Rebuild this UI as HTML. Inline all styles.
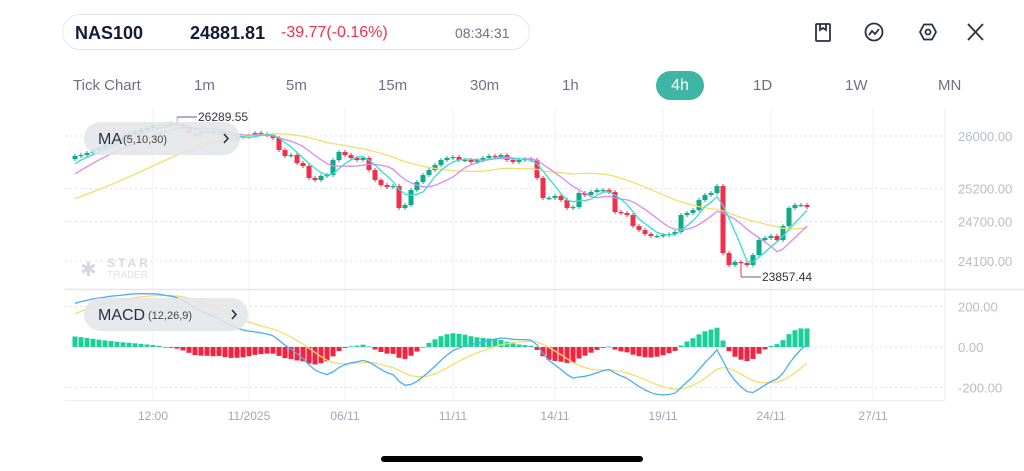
<!DOCTYPE html>
<html><head><meta charset="utf-8">
<style>
*{margin:0;padding:0;box-sizing:border-box}
body{width:1024px;height:471px;background:#fff;font-family:"Liberation Sans",sans-serif;position:relative;overflow:hidden}
.abs{position:absolute}
.tf{position:absolute;top:77px;font-size:15px;color:#6b7285}
</style></head><body>
<div class="abs" style="left:62px;top:14px;width:468px;height:36px;border:1px solid #e3e5ea;border-radius:18px"></div>
<div class="abs" style="left:75px;top:23px;font-size:18px;font-weight:bold;color:#131a3a">NAS100</div>
<div class="abs" style="left:190px;top:23px;font-size:18px;font-weight:bold;color:#131a3a">24881.81</div>
<div class="abs" style="left:281px;top:24px;font-size:16px;color:#f0304a">-39.77(-0.16%)</div>
<div class="abs" style="left:455px;top:25px;font-size:14px;color:#6b7285">08:34:31</div>
<svg class="abs" style="left:800px;top:18px" width="200" height="30">
<g fill="none" stroke="#2a2f45" stroke-width="1.8"><rect x="16" y="6" width="14" height="17" rx="1"/><path d="M20 6v6l3-2 3 2V6"/></g>
<g fill="none" stroke="#2a2f45" stroke-width="1.8"><circle cx="74" cy="14" r="8.5"/><path d="M69 17l3-4 3 3 4-5"/></g>
<g fill="none" stroke="#2a2f45" stroke-width="1.8"><path d="M120 14l4-7.5h8l4 7.5-4 7.5h-8z"/><circle cx="128" cy="14" r="2.5"/></g>
<g stroke="#2a2f45" stroke-width="1.8"><path d="M168 6l15 16M183 6l-15 16"/></g>
</svg>
<div class="tf" style="left:73px">Tick Chart</div>
<div class="tf" style="left:194px">1m</div>
<div class="tf" style="left:286px">5m</div>
<div class="tf" style="left:378px">15m</div>
<div class="tf" style="left:470px">30m</div>
<div class="tf" style="left:562px">1h</div>
<div class="abs" style="left:656px;top:71px;width:48px;height:29px;border-radius:15px;background:#3fb5a5;color:#fff;font-size:16px;text-align:center;line-height:29px">4h</div>
<div class="tf" style="left:753px">1D</div>
<div class="tf" style="left:845px">1W</div>
<div class="tf" style="left:938px">MN</div>

<svg id="ch" class="abs" style="left:0;top:0" width="1024" height="471"></svg>
<div class="abs" style="left:381px;top:456px;width:262px;height:6px;border-radius:3px;background:#000"></div>

<script>
const priorCloses=[24700,24720,24690,24740,24760,24740,24780,24800,24790,24820,24850,24840,24880,24900,24890,24930,24970,24960,25020,25080,25060,25140,25210,25250,25320,25400,25450,25520,25590,25650];
const closes=[25696,25711,25742,25787,25818,25863,25909,25939,25985,26030,26061,26091,26122,26152,26167,26152,26198,26182,26122,26046,26000,26061,26076,26046,26076,25970,25939,25970,25985,26015,26046,26030,26015,25970,25787,25696,25711,25590,25544,25362,25331,25392,25407,25635,25757,25711,25666,25635,25666,25483,25331,25255,25225,25240,24906,24951,25179,25301,25407,25483,25559,25635,25666,25681,25635,25635,25605,25635,25666,25696,25681,25711,25635,25605,25635,25650,25635,25362,25058,25058,25088,25027,24906,24921,25134,25103,25149,25179,25179,25149,24845,24830,24799,24632,24571,24510,24480,24480,24495,24510,24541,24799,24830,24875,25027,25103,25134,25240,24222,24039,24085,24070,24039,24191,24419,24450,24480,24419,24632,24906,24951,24951,24921];
const extremes={17:{high:26289.55},111:{low:23857.44}};
const priceTicks=[26000,25200,24700,24100];
const macdTicks=[200,0,-200];
const dateLabels=["12:00","11/2025","06/11","11/11","14/11","19/11","24/11","27/11"];
const dateIdx=[13,29,45,63,80,98,116,133];

const NS="http://www.w3.org/2000/svg",svg=document.getElementById('ch');
function mk(t,a,p){const e=document.createElementNS(NS,t);for(const k in a)e.setAttribute(k,a[k]);(p||svg).appendChild(e);return e;}
const xOf=i=>75+6*i;
const yP=p=>136+(26000-p)*0.0658;
const yM=v=>347-v*0.2025;

const g=mk('g',{});


dateIdx.forEach(i=>{mk('line',{x1:xOf(i),x2:xOf(i),y1:108,y2:400,stroke:'#f0f1f4','stroke-width':1},g);});
mk('line',{x1:945,x2:945,y1:108,y2:400,stroke:'#eceef2'},g);
mk('line',{x1:65,x2:1024,y1:289.5,y2:289.5,stroke:'#e4e6eb','stroke-width':1.5},g);
mk('line',{x1:65,x2:945,y1:400.5,y2:400.5,stroke:'#eceef2'},g);
priceTicks.forEach(p=>{mk('line',{x1:65,x2:945,y1:yP(p),y2:yP(p),stroke:'#dcdfe5','stroke-dasharray':'2,3'},g);
 const t=mk('text',{x:958,y:yP(p)+5,'font-size':13,fill:'#b9bcc6'},g);t.textContent=p.toFixed(2);
 
 });
macdTicks.forEach(v=>{mk('line',{x1:65,x2:945,y1:yM(v),y2:yM(v),stroke:'#dcdfe5','stroke-dasharray':'2,3'},g);
 const t=mk('text',{x:958,y:yM(v)+5,'font-size':13,fill:'#b9bcc6'},g);t.textContent=v.toFixed(2);
 
 });
dateLabels.forEach((l,k)=>{const t=mk('text',{x:xOf(dateIdx[k]),y:420,'font-size':12,fill:'#a3a7b3','text-anchor':'middle'});t.textContent=l;
 
 });

const wm=mk('g',{});


mk('text',{x:80,y:276,'font-size':20,fill:'#d5d8de'},wm).textContent='✱';
mk('text',{x:107,y:267,'font-size':12,'font-weight':'bold','letter-spacing':'3',fill:'#d5d8de'},wm).textContent='STAR';
mk('text',{x:107,y:278,'font-size':10,fill:'#dfe1e6'},wm).textContent='TRADER';

const all=priorCloses.concat(closes),off=priorCloses.length;
const cg=mk('g',{});


closes.forEach((c,i)=>{
 const o=i?closes[i-1]:priorCloses[off-1];
 let hi=Math.max(o,c)+30,lo=Math.min(o,c)-30;
 if(extremes[i]&&extremes[i].high)hi=extremes[i].high;
 if(extremes[i]&&extremes[i].low)lo=extremes[i].low;
 const col=c>=o?'#12a88a':'#f0304a',x=xOf(i);
 const op=(x<250&&x>80&&i>=14)?0.45:1;
 mk('line',{x1:x,x2:x,y1:yP(hi),y2:yP(lo),stroke:col,'stroke-width':1,opacity:op},cg);
 const y1=yP(Math.max(o,c)),y2=yP(Math.min(o,c));
 const r=mk('rect',{x:x-2.5,y:y1,width:5,height:Math.max(1.2,y2-y1),fill:col,opacity:op},cg);
 
 
});
function ma(n,col,name){let d='';closes.forEach((c,i)=>{let s=0;for(let k=0;k<n;k++)s+=all[off+i-k];d+=(i?'L':'M')+xOf(i)+' '+yP(s/n).toFixed(1);});
 const p=mk('path',{d,fill:'none',stroke:col,'stroke-width':1.3});}
ma(30,'#f2df6b','ma30-line');ma(10,'#d98af2','ma10-line');ma(5,'#35ded0','ma5-line');

let e12=all[0],e26=all[0],sig=0;const mac=[],sg=[];
all.forEach((c,j)=>{e12=e12+(c-e12)*2/13;e26=e26+(c-e26)*2/27;const m=e12-e26;sig=sig+(m-sig)*2/10;if(j>=off){mac.push(m);sg.push(sig);}});
const hg=mk('g',{});


mac.forEach((m,i)=>{const h=(m-sg[i]);const y=yM(h);
 mk('rect',{x:xOf(i)-2.5,y:Math.min(y,347),width:5,height:Math.max(0.8,Math.abs(y-347)),fill:h>=0?'#1ccf9a':'#f5223f'},hg);});
function ln(arr,col,name){let d='';arr.forEach((v,i)=>{d+=(i?'L':'M')+xOf(i)+' '+yM(v).toFixed(1);});
 const p=mk('path',{d,fill:'none',stroke:col,'stroke-width':1.3});}
ln(sg,'#f2df6b','macd-signal-line');ln(mac,'#4aaef5','macd-line');

const hx=xOf(17);
mk('line',{x1:hx,x2:hx+20,y1:yP(26289.55),y2:yP(26289.55),stroke:'#666'});
let t=mk('text',{x:hx+21,y:yP(26289.55)+4,'font-size':12,fill:'#333'});t.textContent='26289.55';

const lx=xOf(111);
mk('line',{x1:lx,x2:lx+20,y1:yP(23857.44),y2:yP(23857.44),stroke:'#666'});
t=mk('text',{x:lx+21,y:yP(23857.44)+4,'font-size':12,fill:'#333'});t.textContent='23857.44';


function pill(x,y,w,big,small,name){const gg=mk('g',{});
 mk('rect',{x,y,width:w,height:33,rx:16.5,fill:'#e4e5e8',opacity:0.88},gg);
 mk('text',{x:x+14,y:y+22,'font-size':16,fill:'#2a2f45'},gg).textContent=big;
 mk('text',{x:x+14+(big.length*12.5),y:y+21,'font-size':11,fill:'#444'},gg).textContent=small;
 mk('path',{d:`M${x+w-16} ${y+12}l4 4.5-4 4.5`,fill:'none',stroke:'#2a2f45','stroke-width':1.6},gg);}
pill(84,122,156,'MA','(5,10,30)','ma-indicator-pill');
pill(84,298,164,'MACD','(12,26,9)','macd-indicator-pill');
</script>
</body></html>
